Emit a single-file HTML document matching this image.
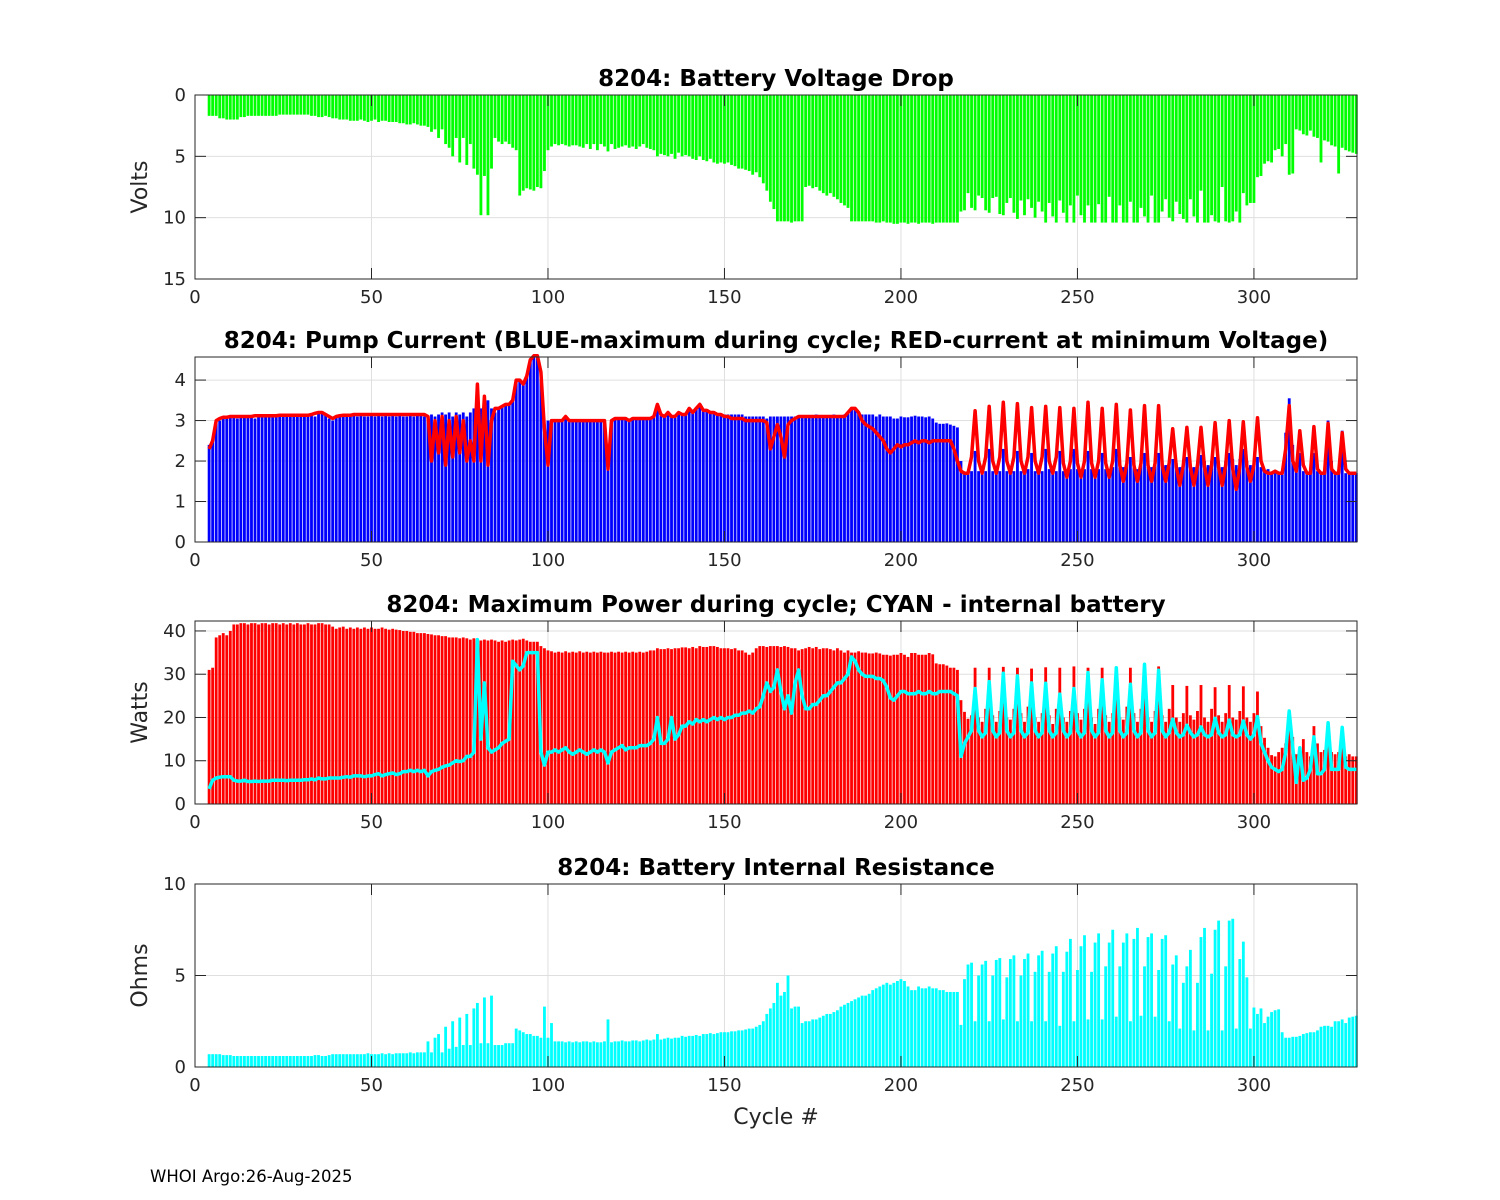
<!DOCTYPE html>
<html><head><meta charset="utf-8"><title>8204 battery charts</title>
<style>
html,body{margin:0;padding:0;background:#fff;}
svg{display:block;font-family:"DejaVu Sans","Liberation Sans",sans-serif;}
</style></head>
<body>
<svg id="fig" width="1500" height="1200" viewBox="0 0 1500 1200" xmlns="http://www.w3.org/2000/svg">
<rect width="1500" height="1200" fill="#fff"/>
<text x="150" y="1182" font-size="16.5" fill="#000">WHOI Argo:26-Aug-2025</text>
<text x="776" y="1124" font-size="22" fill="#262626" text-anchor="middle">Cycle #</text>
</svg>
<script>
const firstCycle = 4;
const xTicks = [0, 50, 100, 150, 200, 250, 300];
const voltDrop = [1.7,1.7,1.7,1.9,1.9,2.0,
2.0,2.0,2.0,1.8,1.8,1.7,1.7,1.7,1.7,1.7,
1.7,1.7,1.7,1.7,1.6,1.6,1.6,1.6,1.6,1.6,
1.6,1.6,1.6,1.7,1.7,1.8,1.8,1.7,1.8,1.9,
1.9,2.0,2.0,2.0,2.1,2.1,2.1,2.0,2.1,2.2,
2.1,2.0,2.2,2.1,2.1,2.2,2.2,2.2,2.3,2.3,
2.4,2.4,2.3,2.4,2.5,2.5,2.6,3.0,2.8,3.5,
2.8,4.0,4.3,5.0,3.5,5.5,3.5,5.7,4.0,6.0,
6.5,9.8,6.6,9.8,6.0,3.5,3.8,4.0,3.8,4.0,
4.3,4.5,8.2,7.8,7.6,7.7,7.8,7.5,7.6,6.2,
4.5,4.2,4.0,4.1,4.0,4.1,4.2,4.1,4.1,4.2,
4.3,4.0,4.4,4.0,4.5,4.0,4.2,4.6,4.0,4.4,
4.3,4.2,4.1,4.3,4.2,4.4,4.2,4.0,4.3,4.4,
4.5,5.0,4.8,4.9,5.0,4.8,5.2,4.7,5.0,4.9,
5.0,5.2,5.3,5.0,5.3,5.4,5.2,5.5,5.6,5.5,
5.6,5.5,5.7,5.8,6.0,6.0,6.1,6.2,6.5,6.3,
6.7,7.2,7.8,8.7,9.3,10.3,10.3,10.3,10.3,10.4,
10.3,10.3,10.3,7.5,7.4,7.6,7.5,7.8,8.0,8.2,
8.0,8.3,8.5,8.8,9.0,9.2,10.3,10.3,10.3,10.3,
10.3,10.3,10.3,10.4,10.4,10.3,10.4,10.4,10.5,10.5,
10.4,10.4,10.5,10.4,10.4,10.5,10.4,10.4,10.4,10.5,
10.4,10.4,10.4,10.4,10.4,10.4,10.4,
9.5,9.4,8.0,9.2,9.4,8.2,8.4,9.4,9.6,8.4,
8.3,9.7,9.8,8.8,8.4,9.6,10.1,8.6,9.8,8.5,
9.2,10.0,8.7,9.5,10.4,8.8,9.9,10.4,8.6,9.6,
10.4,9.0,10.4,8.2,9.8,10.4,9.0,10.4,10.4,8.9,
10.4,10.4,8.3,10.4,10.4,9.0,10.4,10.4,8.7,10.4,
10.4,9.2,9.9,10.4,8.2,10.4,10.4,9.5,8.5,10.0,
10.3,8.7,9.7,10.1,10.4,8.5,9.9,10.4,7.8,10.4,
10.4,9.8,10.3,10.4,7.5,10.3,10.4,10.3,9.5,10.4,
8.0,9.0,8.8,
8.8,6.7,6.6,5.6,5.4,5.5,4.5,4.4,5.0,4.0,
6.5,6.4,2.8,2.9,3.2,3.3,2.9,3.4,3.5,5.5,
3.7,3.8,4.1,4.2,6.4,4.3,4.5,4.6,4.7,4.8];

const currentMax = [2.4,2.5,2.95,3.0,3.05,3.05,
3.1,3.1,3.05,3.1,3.1,3.1,3.1,3.05,3.1,3.1,
3.1,3.1,3.1,3.1,3.1,3.1,3.15,3.1,3.1,3.1,
3.1,3.1,3.1,3.15,3.1,3.2,3.2,3.15,3.05,3.0,
3.1,3.1,3.15,3.1,3.1,3.15,3.1,3.15,3.1,3.1,
3.15,3.1,3.15,3.1,3.15,3.1,3.15,3.1,3.15,3.1,
3.1,3.15,3.1,3.15,3.15,3.1,3.1,3.15,3.1,3.15,
3.2,3.15,3.2,3.1,3.2,3.15,3.2,3.1,3.2,3.3,
3.5,3.3,3.4,3.5,3.3,3.2,3.3,3.35,3.4,3.4,
3.5,4.0,4.0,3.9,4.1,4.5,4.6,4.6,4.2,2.9,
3.0,3.0,3.0,3.0,3.0,3.05,3.0,3.0,3.0,3.0,
3.0,3.0,3.0,3.0,3.0,3.0,3.0,2.0,3.0,3.05,
3.05,3.05,3.05,3.0,3.05,3.05,3.05,3.05,3.05,3.05,
3.1,3.4,3.15,3.1,3.2,3.1,3.1,3.2,3.15,3.15,
3.3,3.2,3.3,3.4,3.25,3.25,3.2,3.2,3.15,3.15,
3.15,3.15,3.15,3.15,3.15,3.15,3.1,3.1,3.1,3.1,
3.1,3.1,3.05,3.1,3.1,3.1,3.1,3.1,3.1,3.1,
3.1,3.1,3.1,3.1,3.1,3.1,3.15,3.1,3.1,3.1,
3.1,3.15,3.1,3.1,3.15,3.2,3.3,3.3,3.2,3.15,
3.15,3.15,3.15,3.1,3.15,3.1,3.1,3.1,3.05,3.05,
3.1,3.08,3.08,3.1,3.12,3.1,3.1,3.08,3.1,3.05,
2.95,2.92,2.92,2.93,2.9,2.87,2.83,
2.0,1.7,1.7,1.75,
2.25,1.75,1.7,1.75, 2.3,1.75,1.7,1.75, 2.3,1.75,1.7,1.75, 2.25,1.75,1.7,1.8,
2.2,1.75,1.7,1.75, 2.3,1.8,1.7,1.75, 2.25,1.75,1.7,1.8, 2.3,1.8,1.75,1.8,
2.25,1.8,1.75,1.8, 2.2,1.8,1.8,1.85, 2.3,1.9,1.85,1.9, 2.1,1.85,1.8,1.9,
2.2,1.9,1.85,1.9, 2.2,2.0,1.9,1.95, 2.05,1.95,1.85,1.9, 2.1,1.9,1.85,1.95,
2.15,2.0,1.9,2.0, 2.1,1.95,1.85,2.0, 2.2,2.05,1.9,2.05, 2.3,2.0,1.9,2.0,
2.1,1.85,1.75,1.8,1.7,1.7,1.7,1.75,2.7,3.55,2.4,1.75,2.2,1.75,1.7,1.75,2.2,1.75,1.7,1.7,3.0,2.0,1.7,1.7,2.75,1.7,1.7,1.7,1.7];

const currentAtMinV = [2.3,2.5,3.0,3.05,3.08,3.08,
3.1,3.1,3.1,3.1,3.1,3.1,3.1,3.12,3.12,3.12,
3.12,3.12,3.12,3.12,3.13,3.13,3.13,3.13,3.13,3.13,
3.13,3.13,3.13,3.15,3.18,3.2,3.2,3.15,3.1,3.05,
3.1,3.12,3.13,3.13,3.13,3.15,3.15,3.15,3.15,3.15,
3.15,3.15,3.15,3.15,3.15,3.15,3.15,3.15,3.15,3.15,
3.15,3.15,3.15,3.15,3.15,3.15,3.1,2.0,3.0,2.2,
3.1,1.9,3.0,2.1,3.1,2.2,3.0,2.0,2.5,2.0,
3.9,2.0,3.6,1.9,3.0,3.3,3.3,3.35,3.4,3.4,
3.5,4.0,4.0,3.9,4.1,4.5,4.6,4.6,4.2,2.8,
1.9,3.0,3.0,3.0,3.0,3.1,3.0,3.0,3.0,3.0,
3.0,3.0,3.0,3.0,3.0,3.0,3.0,1.8,3.0,3.05,
3.05,3.05,3.05,3.0,3.05,3.05,3.05,3.05,3.05,3.05,
3.1,3.4,3.15,3.1,3.2,3.1,3.1,3.2,3.15,3.15,
3.3,3.2,3.3,3.4,3.25,3.25,3.2,3.2,3.15,3.15,
3.1,3.1,3.05,3.05,3.05,3.05,3.0,3.0,3.0,3.0,
3.0,3.0,2.95,2.3,2.6,2.9,2.6,2.1,2.9,3.0,
3.05,3.1,3.1,3.1,3.1,3.1,3.1,3.1,3.1,3.1,
3.1,3.1,3.1,3.1,3.1,3.2,3.3,3.3,3.2,3.0,
2.9,2.85,2.8,2.7,2.6,2.5,2.3,2.2,2.3,2.4,
2.35,2.4,2.4,2.45,2.5,2.45,2.5,2.5,2.45,2.5,
2.5,2.5,2.5,2.5,2.5,2.3,2.0,
1.75,1.7,1.7,2.1,
3.24,2.0,1.7,2.1, 3.35,2.0,1.7,2.1, 3.45,2.0,1.7,2.1, 3.42,2.0,1.7,2.1,
3.32,2.0,1.7,2.1, 3.35,2.0,1.7,2.1, 3.32,1.95,1.6,2.0, 3.3,1.95,1.6,2.0,
3.45,1.95,1.6,2.0, 3.3,1.95,1.6,2.0, 3.4,1.9,1.5,1.95, 3.26,1.9,1.5,1.95,
3.37,1.9,1.5,1.95, 3.37,1.9,1.5,1.95, 2.8,1.85,1.4,1.9, 2.83,1.85,1.4,1.9,
2.83,1.85,1.4,1.9, 2.95,1.85,1.4,1.9, 3.0,1.8,1.3,1.85, 2.97,1.85,1.5,1.9,
3.07,2.0,1.75,1.7,1.7,1.75,1.7,1.7,2.3,3.37,2.0,1.75,2.75,1.9,1.7,1.7,2.85,1.8,1.7,1.7,2.93,1.8,1.7,1.7,2.7,1.8,1.7,1.7,1.7];

const powerMax = [31,31.5,38.5,39,39.5,39,
40,41.5,41.5,41.8,41.8,41.5,41.8,41.8,41.5,41.8,
41.8,41.5,41.8,41.8,41.5,41.8,41.5,41.8,41.5,41.8,
41.5,41.5,41.8,41.5,41.5,41.8,41.8,41.5,41.5,41.0,
40.5,40.8,41.0,40.5,40.8,40.5,40.8,40.5,40.8,40.5,
40.8,40.5,40.5,40.8,40.5,40.3,40.5,40.3,40.2,40.0,
40.0,39.8,39.8,39.5,39.5,39.5,39.3,39.2,39.0,39.0,
38.8,38.8,38.5,38.5,38.5,38.3,38.5,38.3,38.0,38.3,
38.0,37.8,38.0,37.8,38.0,37.8,37.5,37.8,37.5,37.8,
38.0,37.8,38.0,38.2,37.8,37.5,37.5,37.5,36.5,36.0,
35.5,35.3,35.0,35.2,35.0,35.3,35.0,35.2,35.0,35.3,
35.0,35.2,35.0,35.2,35.0,35.2,35.0,35.0,35.2,35.0,
35.2,35.0,35.2,35.0,35.2,35.0,35.2,35.0,35.2,35.5,
35.5,36.0,35.8,35.8,36.0,35.8,36.0,36.0,36.2,36.2,
36.0,36.3,36.0,36.5,36.3,36.3,36.5,36.5,36.3,36.0,
36.0,36.0,35.8,36.0,35.5,35.5,35.0,34.5,35.0,36.0,
36.5,36.5,36.3,36.5,36.5,36.5,36.3,36.5,36.3,36.0,
36.0,35.5,35.8,36.0,36.3,36.0,36.3,35.8,36.0,36.0,
35.8,35.5,36.0,35.5,35.0,35.5,35.0,35.0,35.3,35.0,
35.0,34.8,34.8,35.0,34.8,34.5,34.5,34.3,34.5,34.5,
34.9,34.5,34.0,34.9,34.9,34.5,34.5,34.5,34.9,34.6,
32.5,32.3,32.3,32.0,31.5,31.5,31.0,
24.0,21.3,19.7,20.5,
31.5,20,19,22, 31.5,20.5,19,21.5, 31.7,20,19.5,22, 31.5,21,19,22.5,
31.3,20,19,21, 31.6,20.5,18.5,22, 31.5,20,19,21.5, 31.8,21,19.5,22,
31.5,20,18.5,22, 31.5,20.5,19,21, 31.7,20,19.5,22.5, 31.5,21,19,22,
31.5,20,19,21.5, 31.8,20.5,19,22, 27.5,20,19,21, 27.3,20.5,19.5,21.5,
27.5,20,19,22, 27.0,20.5,19,21, 27.5,20,19.5,21.5, 27.2,20,19,21,
26,18,15.3,13,11.3,11,12,13,14,19.4,15.5,11.5,13,15,12,11,18,14,12,12.5,14,12,11.5,12,13,11,11.5,11,11];

const powerInternal = [3.5,5.5,6.0,6.2,6.3,6.3,
6.3,5.5,5.3,5.3,5.5,5.2,5.2,5.3,5.2,5.3,
5.3,5.3,5.5,5.5,5.5,5.5,5.4,5.5,5.5,5.5,
5.5,5.6,5.6,5.8,5.6,6.0,5.8,5.8,6.0,6.0,
6.0,6.0,6.2,6.3,6.2,6.5,6.5,6.5,6.3,6.5,
6.5,6.8,7.0,6.5,6.8,7.0,7.2,6.8,7.0,7.5,
7.5,7.8,7.5,7.8,7.5,7.8,6.5,7.5,7.8,8.0,
8.5,8.8,9.0,9.5,10.0,9.8,10.0,11.0,11.0,12.0,
38.0,15.0,28.0,13.0,12.0,12.5,13.0,14.0,14.5,15.0,
33.0,32.0,31.0,32.0,35.0,35.0,35.0,35.0,12.0,9.0,
12.0,12.0,12.5,12.0,12.5,13.0,12.0,11.5,12.0,12.5,
12.0,11.5,12.0,12.5,12.0,12.5,12.0,9.5,12.0,12.5,
13.0,13.5,12.5,13.0,13.0,13.0,13.5,13.5,13.5,14.0,
15.0,20.0,14.0,14.0,15.0,20.0,15.0,16.0,18.0,18.0,
19.0,18.5,19.5,19.0,19.5,19.0,19.5,20.0,19.5,20.0,
19.5,20.0,20.0,20.5,20.5,21.0,21.0,21.5,21.0,22.0,
22.5,25.0,28.0,26.0,27.0,31.0,26.0,22.0,25.0,21.0,
28.0,31.0,25.0,22.0,22.0,23.0,23.0,24.0,25.0,25.0,
26.0,27.0,28.0,28.0,29.0,30.0,34.0,33.0,31.0,30.0,
29.5,29.5,29.5,29.0,29.0,28.5,27.0,24.5,24.0,25.0,
26.0,26.0,25.5,25.5,25.5,26.0,25.5,25.5,26.0,25.5,
25.5,26.0,26.0,26.0,26.0,25.5,25.0,
11.0,14.0,15.5,17.0,
26.7,17,15.5,16.5, 28.3,17,15.5,16.5, 30.2,17,15.5,16.5, 29.6,17,15.5,16.5,
28.0,17,15.5,16.5, 27.9,17,15.5,16.5, 25.4,17,15.5,16.5, 26.7,17,15.5,16.5,
30.4,17,15.5,16.5, 28.7,17,15.5,16.5, 31.5,17,15.5,16.5, 27.7,17,15.5,16.5,
32.3,17,15.5,16.5, 30.9,17,15.5,16.5, 19.6,16.5,15.5,16, 18.2,16.5,15.5,16,
17.8,16,15.5,16, 19.8,16.5,15.5,16, 19.4,16,15.5,16, 19.2,16,15,16,
20.2,14,12,10,8.5,8,7.5,8,12,21.5,13,5,13,5.5,6,8,15.5,7,7,8,18.8,8,8,8,17.7,8.5,8,8,8];

const resistance = [0.7,0.7,0.7,0.7,0.65,0.65,
0.65,0.6,0.6,0.6,0.6,0.6,0.6,0.6,0.6,0.6,
0.6,0.6,0.6,0.6,0.6,0.6,0.6,0.6,0.6,0.6,
0.6,0.6,0.6,0.6,0.65,0.65,0.6,0.6,0.65,0.7,
0.7,0.7,0.7,0.7,0.7,0.7,0.7,0.7,0.7,0.75,
0.7,0.7,0.7,0.75,0.7,0.75,0.7,0.75,0.75,0.75,
0.75,0.8,0.75,0.8,0.8,0.8,1.4,0.8,1.6,1.8,
0.8,2.2,1.0,2.5,1.1,2.7,1.2,2.9,1.2,3.2,
3.5,1.3,3.8,1.3,3.9,1.2,1.2,1.2,1.3,1.3,
1.3,2.1,2.0,1.9,1.8,1.8,1.7,1.7,1.6,3.3,
1.6,2.4,1.4,1.4,1.4,1.35,1.4,1.35,1.4,1.35,
1.4,1.4,1.35,1.4,1.35,1.35,1.4,2.6,1.35,1.4,
1.4,1.45,1.4,1.4,1.45,1.45,1.4,1.45,1.5,1.45,
1.5,1.8,1.5,1.55,1.6,1.55,1.6,1.6,1.7,1.65,
1.7,1.7,1.75,1.7,1.8,1.8,1.85,1.8,1.85,1.9,
1.9,1.9,1.95,1.95,2.0,2.0,2.05,2.1,2.1,2.2,
2.3,2.5,2.9,3.2,3.5,4.6,3.9,4.1,5.0,3.2,
3.3,3.3,2.4,2.5,2.5,2.6,2.6,2.7,2.8,2.9,
2.9,3.0,3.1,3.3,3.4,3.5,3.6,3.7,3.8,3.9,
3.9,4.0,4.2,4.3,4.4,4.5,4.6,4.5,4.6,4.7,
4.8,4.7,4.4,4.2,4.2,4.4,4.3,4.3,4.4,4.3,
4.3,4.2,4.2,4.1,4.1,4.1,4.1,
2.3,
4.8,5.6,5.7,2.5, 5.0,5.6,5.8,2.5, 5.0,5.85,5.95,2.6, 4.9,5.9,6.1,2.5,
5.0,5.9,6.2,2.5, 5.2,6.1,6.35,2.5, 5.2,6.2,6.6,2.25, 5.2,6.3,7.0,2.5,
5.3,6.6,7.2,2.6, 5.2,6.8,7.3,2.6, 5.5,6.8,7.5,2.75, 5.5,6.8,7.3,2.5,
7.0,7.6,2.8, 5.5,7.1,7.3,2.75, 5.3,7.0,7.2,2.5, 5.6,6.1,2.1,
4.6,5.5,6.4,2.0, 4.6,7.1,7.6,2.0, 5.1,7.5,8.0,2.0, 5.5,8.0,8.1,2.1, 5.9,6.85,4.9,2.1,
3.25,2.9,3.2,2.4,2.75,3.0,3.1,3.15,1.9,1.6,1.6,1.65,1.65,1.7,1.8,1.85,1.9,1.9,2.0,2.2,2.25,2.25,2.2,2.5,2.5,2.6,2.4,2.7,2.75,2.8];

const NS = 'http://www.w3.org/2000/svg';
const svg = document.getElementById('fig');
const X0 = 195, X1 = 1357, XMAX = 329.2;
function xs(c){ return X0 + (c / XMAX) * (X1 - X0); }
const barW = 0.8 * (X1 - X0) / XMAX;

function mk(tag, attrs, parent){
  const e = document.createElementNS(NS, tag);
  for (const k in attrs) e.setAttribute(k, attrs[k]);
  (parent || svg).appendChild(e);
  return e;
}

function panel(cfg){
  const g = mk('g', {});
  
  
  const ys = v => cfg.reverse ? cfg.top + (v - cfg.ymin) / (cfg.ymax - cfg.ymin) * (cfg.bottom - cfg.top)
                              : cfg.bottom - (v - cfg.ymin) / (cfg.ymax - cfg.ymin) * (cfg.bottom - cfg.top);
  xTicks.forEach(t => {
    const l = mk('line', {x1: xs(t), x2: xs(t), y1: cfg.top, y2: cfg.bottom, stroke: '#dfdfdf', 'stroke-width': 1}, g);
    
    
  });
  cfg.yTicks.forEach(t => {
    const l = mk('line', {x1: X0, x2: X1, y1: ys(t), y2: ys(t), stroke: '#dfdfdf', 'stroke-width': 1}, g);
    
    
  });
  cfg.draw(g, ys);
  const box = mk('rect', {x: X0, y: cfg.top, width: X1 - X0, height: cfg.bottom - cfg.top, fill: 'none', stroke: '#262626', 'stroke-width': 1}, g);
  
  
  xTicks.forEach(t => {
    const x = xs(t);
    mk('line', {x1: x, x2: x, y1: cfg.bottom, y2: cfg.bottom - 11, stroke: '#262626'}, g);
    mk('line', {x1: x, x2: x, y1: cfg.top, y2: cfg.top + 11, stroke: '#262626'}, g);
    const tx = mk('text', {x: x, y: cfg.bottom + 24, 'font-size': 18, fill: '#262626', 'text-anchor': 'middle'}, g);
    tx.textContent = t;
    
    
  });
  cfg.yTicks.forEach(t => {
    const y = ys(t);
    mk('line', {x1: X0, x2: X0 + 11, y1: y, y2: y, stroke: '#262626'}, g);
    mk('line', {x1: X1, x2: X1 - 11, y1: y, y2: y, stroke: '#262626'}, g);
    const tx = mk('text', {x: X0 - 9, y: y + 6, 'font-size': 18, fill: '#262626', 'text-anchor': 'end'}, g);
    tx.textContent = t;
    
    
  });
  const ti = mk('text', {x: 776, y: cfg.top - 9, 'font-size': 23, 'font-weight': 'bold', fill: '#000', 'text-anchor': 'middle'}, g);
  ti.textContent = cfg.title;
  
  
  if (cfg.ylabel){
    const cy = (cfg.top + cfg.bottom) / 2;
    const yl = mk('text', {x: 147, y: cy, 'font-size': 22, fill: '#262626', 'text-anchor': 'middle', transform: 'rotate(-90 147 ' + cy + ')'}, g);
    yl.textContent = cfg.ylabel;
    
    
  }
}

function bars(g, data, ys, color, name, base){
  data.forEach((v, i) => {
    const c = firstCycle + i;
    const y0 = ys(base), y1 = ys(v);
    const r = mk('rect', {x: xs(c) - barW / 2, y: Math.min(y0, y1), width: barW, height: Math.abs(y1 - y0), fill: color}, g);
    
    
  });
}
function line(g, data, ys, color, name){
  const pts = data.map((v, i) => xs(firstCycle + i).toFixed(1) + ',' + ys(v).toFixed(1)).join(' ');
  const p = mk('polyline', {points: pts, fill: 'none', stroke: color, 'stroke-width': 3.5, 'stroke-linejoin': 'round'}, g);
  
  
}

panel({name: 'voltage-drop-panel', top: 95, bottom: 279, ymin: 0, ymax: 15, reverse: true, yTicks: [0,5,10,15],
  title: '8204: Battery Voltage Drop', ylabel: 'Volts',
  draw: (g, ys) => bars(g, voltDrop, ys, '#00ff00', 'voltage-drop-bar', 0)});
panel({name: 'pump-current-panel', top: 357, bottom: 542, ymin: 0, ymax: 4.57, yTicks: [0,1,2,3,4],
  title: '8204: Pump Current (BLUE-maximum during cycle; RED-current at minimum Voltage)', ylabel: '',
  draw: (g, ys) => { bars(g, currentMax, ys, '#0000ff', 'max-current-bar', 0); line(g, currentAtMinV, ys, '#ff0000', 'current-at-min-voltage-line'); }});
panel({name: 'max-power-panel', top: 621, bottom: 804, ymin: 0, ymax: 42.3, yTicks: [0,10,20,30,40],
  title: '8204: Maximum Power during cycle; CYAN - internal battery', ylabel: 'Watts',
  draw: (g, ys) => { bars(g, powerMax, ys, '#ff0000', 'max-power-bar', 0); line(g, powerInternal, ys, '#00ffff', 'internal-battery-power-line'); }});
panel({name: 'resistance-panel', top: 884, bottom: 1067, ymin: 0, ymax: 10, yTicks: [0,5,10],
  title: '8204: Battery Internal Resistance', ylabel: 'Ohms',
  draw: (g, ys) => bars(g, resistance, ys, '#00ffff', 'resistance-bar', 0)});
</script>
</body></html>
